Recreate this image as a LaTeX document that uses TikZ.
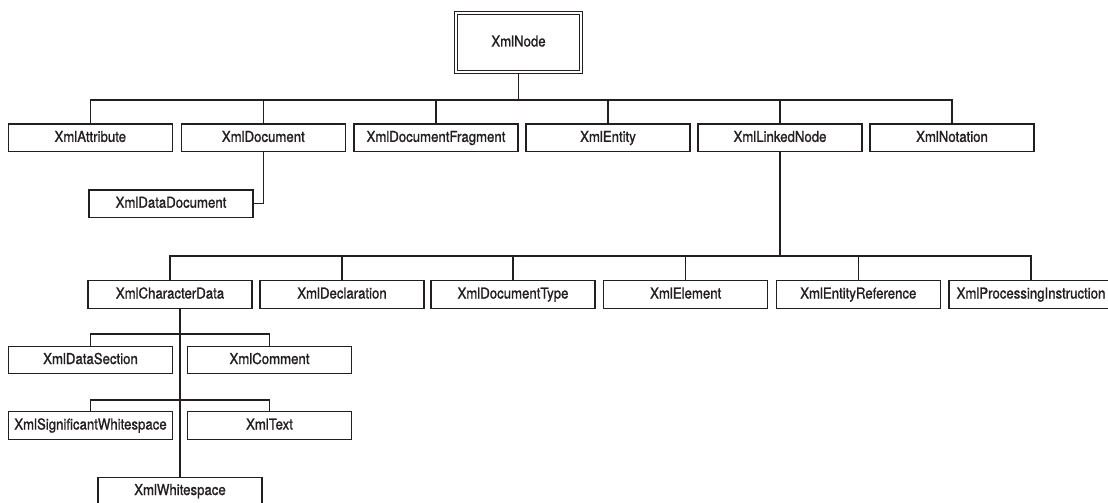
\documentclass[tikz,border=0pt]{standalone}
\usepackage{fontspec}
\setmainfont{TeX Gyre Heros}[FakeStretch=0.88, FakeBold=1.2]
\definecolor{ink}{HTML}{231F20}
\begin{document}
\begin{tikzpicture}[x=1pt,y=-1pt,
  cls/.style={draw=ink, line width=1.4pt, minimum width=164pt, minimum height=27.5pt,
    inner sep=0pt, text height=11pt, text depth=3pt,
    font=\fontsize{15}{18}\selectfont, text=ink},
  link/.style={draw=ink, line width=1.4pt},
  rootbox/.style={draw=ink, double, double distance=1.5pt, line width=1.2pt,
    minimum width=125pt, minimum height=59pt, inner sep=0pt,
    text height=11pt, text depth=3pt,
    font=\fontsize{15}{18}\selectfont, text=ink}]
\useasboundingbox[fill=white] (0,0) rectangle (1108,503);

% root
\node[rootbox] (node) at (518.5,42.5) {XmlNode};

% level 1
\node[cls] (attr)  at (90.3,137.9)  {XmlAttribute};
\node[cls] (doc)   at (263.3,137.9) {XmlDocument};
\node[cls] (frag)  at (436,137.9)   {XmlDocumentFragment};
\node[cls] (ent)   at (608,137.9)   {XmlEntity};
\node[cls] (lnode) at (780,137.9)   {XmlLinkedNode};
\node[cls] (nota)  at (952,137.9)   {XmlNotation};

\node[cls] (ddoc)  at (171,203.7)   {XmlDataDocument};

% level 2
\node[cls] (cdata) at (170,294.5)   {XmlCharacterData};
\node[cls] (decl)  at (342,294.5)   {XmlDeclaration};
\node[cls] (dtype) at (513,294.5)   {XmlDocumentType};
\node[cls] (elem)  at (685.7,294.5) {XmlElement};
\node[cls] (eref)  at (858.3,294.5) {XmlEntityReference};
\node[cls] (pins)  at (1031,294.5)  {XmlProcessingInstruction};

% level 3
\node[cls] (dsec)  at (90.5,360)    {XmlDataSection};
\node[cls] (comm)  at (269.5,360)   {XmlComment};
\node[cls] (sigws) at (90.5,425.5)  {XmlSignificantWhitespace};
\node[cls] (text)  at (269.5,425.5) {XmlText};
\node[cls] (wsp)   at (180,491)     {XmlWhitespace};

\coordinate (busA) at (0,100);
\coordinate (busB) at (0,256);
\coordinate (busC) at (0,334);
\coordinate (busD) at (0,400);

% XmlNode children
\draw[link] (node.south) -- (node.south |- busA);
\foreach \c in {attr,doc,frag,ent,lnode,nota}
  \draw[link] (node.south |- busA) -| (\c.north);

% XmlDocument -> XmlDataDocument
\draw[link] (doc.south) |- (ddoc.east);

% XmlLinkedNode children
\draw[link] (lnode.south) -- (lnode.south |- busB);
\foreach \c in {cdata,decl,dtype,elem,eref,pins}
  \draw[link] (lnode.south |- busB) -| (\c.north);

% XmlCharacterData children
\draw[link] (wsp.north |- cdata.south) -- (wsp.north);
\foreach \c in {dsec,comm}
  \draw[link] (wsp.north |- busC) -| (\c.north);
\foreach \c in {sigws,text}
  \draw[link] (wsp.north |- busD) -| (\c.north);
\end{tikzpicture}
\end{document}
